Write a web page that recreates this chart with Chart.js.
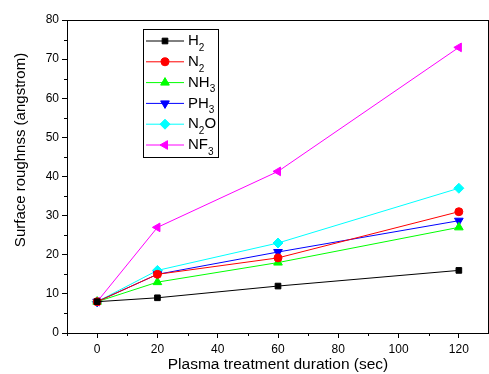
<!DOCTYPE html>
<html>
<head>
<meta charset="utf-8">
<script src="https://cdn.jsdelivr.net/npm/chart.js@4/dist/chart.umd.min.js"></script>
<style>
  html, body { margin: 0; padding: 0; background: #fff; overflow: hidden; }
  #wrap { width: 495px; height: 374px; position: relative; }
</style>
</head>
<body>
<div id="wrap"><canvas id="RoughnessChart"></canvas></div>
<script>
// Plasma treatment duration (sec)
const durations = [0, 20, 60, 120];

// Surface roughness for each gas (angstrom)
const h2 = [8, 9, 12, 16];
const n2 = [8, 15, 19.2, 31];
const nh3 = [8, 13, 18, 27];
const ph3 = [8, 15, 20.7, 28.7];
const n2o = [8, 16, 23, 37];
const nf3 = [8, 27, 41.3, 73];

// legend names: [main text, subscript, trailing text]
const gasLabels = [
    ['H', '2', ''],
    ['N', '2', ''],
    ['NH', '3', ''],
    ['PH', '3', ''],
    ['N', '2', 'O'],
    ['NF', '3', '']
];

const yTitle = 'Surface roughnss (angstrom)';
const FONT = '"Liberation Sans", Arial, sans-serif';

function makeSet(label, values, color, style, rotation, radius) {
    return {
        label: label,
        data: values.map((v, i) => ({ x: durations[i], y: v })),
        borderColor: color,
        backgroundColor: color,
        borderWidth: 1,
        pointStyle: style,
        pointRotation: rotation,
        pointRadius: radius,
        pointBorderWidth: 1,
        tension: 0
    };
}

// box, minor ticks, y title and the inside legend
const framePlugin = {
    id: 'frame',
    afterDraw(chart) {
        const ctx = chart.ctx;
        const a = chart.chartArea;
        const xs = chart.scales.x;
        const ys = chart.scales.y;
        ctx.save();
        ctx.strokeStyle = '#000';
        ctx.lineWidth = 1;
        ctx.strokeRect(a.left + 0.5, a.top + 0.5, a.right - a.left - 1, a.bottom - a.top);

        // minor ticks
        ctx.beginPath();
        for (let v = -10; v <= 130; v += 20) {
            const px = Math.round(xs.getPixelForValue(v)) + 0.5;
            ctx.moveTo(px, a.bottom);
            ctx.lineTo(px, a.bottom + 3);
        }
        for (let v = 5; v < 80; v += 10) {
            const py = Math.round(ys.getPixelForValue(v)) + 0.5;
            ctx.moveTo(a.left, py);
            ctx.lineTo(a.left - 3, py);
        }
        ctx.stroke();

        // y axis title (sits a bit above the middle in the original)
        ctx.save();
        ctx.translate(21, 150);
        ctx.rotate(-Math.PI / 2);
        ctx.fillStyle = '#000';
        ctx.font = '15px ' + FONT;
        ctx.textAlign = 'center';
        ctx.textBaseline = 'middle';
        ctx.fillText(yTitle, 0, 0);
        ctx.restore();

        // legend box
        const bx = 143, by = 29, bw = 75, bh = 128;
        ctx.fillStyle = '#fff';
        ctx.fillRect(bx, by, bw, bh);
        ctx.strokeStyle = '#000';
        ctx.strokeRect(bx + 0.5, by + 0.5, bw, bh);
        chart.data.datasets.forEach((ds, i) => {
            const cy = by + 12 + i * 20.8;
            ctx.strokeStyle = ds.borderColor;
            ctx.fillStyle = ds.backgroundColor;
            ctx.lineWidth = 1;
            ctx.beginPath();
            ctx.moveTo(bx + 3, cy);
            ctx.lineTo(bx + 41, cy);
            ctx.stroke();
            Chart.helpers.drawPoint(ctx, {
                pointStyle: ds.pointStyle,
                rotation: ds.pointRotation,
                radius: ds.pointRadius,
                borderWidth: 1
            }, bx + 22, cy);
            const lab = gasLabels[i];
            ctx.fillStyle = '#000';
            ctx.textBaseline = 'middle';
            ctx.textAlign = 'left';
            ctx.font = '15px ' + FONT;
            let tx = bx + 45;
            ctx.fillText(lab[0], tx, cy);
            tx += ctx.measureText(lab[0]).width;
            ctx.font = '10px ' + FONT;
            ctx.fillText(lab[1], tx, cy + 7);
            tx += ctx.measureText(lab[1]).width;
            ctx.font = '15px ' + FONT;
            ctx.fillText(lab[2], tx, cy);
        });
        ctx.restore();
    }
};

document.addEventListener('DOMContentLoaded', function() {
    const ctx = document.getElementById('RoughnessChart');
    new Chart(ctx, {
        type: 'line',
        data: {
            datasets: [
                makeSet('H2', h2, '#000000', 'rect', 0, 4),
                makeSet('N2', n2, '#ff0000', 'circle', 0, 4),
                makeSet('NH3', nh3, '#00ff00', 'triangle', 0, 5),
                makeSet('PH3', ph3, '#0000ff', 'triangle', 180, 5),
                makeSet('N2O', n2o, '#00ffff', 'rectRot', 0, 5),
                makeSet('NF3', nf3, '#ff00ff', 'triangle', 270, 5)
            ]
        },
        options: {
            responsive: true,
            maintainAspectRatio: false,
            animation: false,
            layout: { padding: { top: 20, right: 0, left: 0, bottom: 0 } },
            plugins: {
                legend: { display: false },
                tooltip: { enabled: false }
            },
            scales: {
                x: {
                    type: 'linear',
                    min: -10,
                    max: 130,
                    afterFit: (scale) => {
                        scale.height = 41;
                        scale.paddingLeft = 0;
                        scale.paddingRight = 0;
                    },
                    border: { color: '#000', width: 1 },
                    grid: {
                        drawOnChartArea: false,
                        tickLength: 5,
                        tickColor: (c) => (c.tick && c.tick.value % 20 === 0 ? '#000' : 'rgba(0,0,0,0)')
                    },
                    ticks: {
                        stepSize: 10,
                        color: '#000',
                        padding: 4,
                        maxRotation: 0,
                        autoSkip: false,
                        font: { family: FONT, size: 12 },
                        callback: (v) => (v % 20 === 0 && v >= 0 && v <= 120 ? v : '')
                    },
                    title: {
                        display: true,
                        text: 'Plasma treatment duration (sec)',
                        color: '#000',
                        padding: { top: 4, bottom: 0 },
                        font: { family: FONT, size: 15.5 }
                    }
                },
                y: {
                    min: 0,
                    max: 80,
                    afterFit: (scale) => {
                        scale.width = 67;
                        scale.paddingTop = 0;
                        scale.paddingBottom = 0;
                    },
                    border: { color: '#000', width: 1 },
                    grid: {
                        drawOnChartArea: false,
                        tickLength: 5,
                        tickColor: (c) => (c.tick && c.tick.value % 10 === 0 ? '#000' : 'rgba(0,0,0,0)')
                    },
                    ticks: {
                        stepSize: 5,
                        color: '#000',
                        padding: 3,
                        autoSkip: false,
                        font: { family: FONT, size: 12 },
                        callback: (v) => (v % 10 === 0 ? v : '')
                    }
                }
            }
        },
        plugins: [framePlugin]
    });
});
</script>
</body>
</html>
